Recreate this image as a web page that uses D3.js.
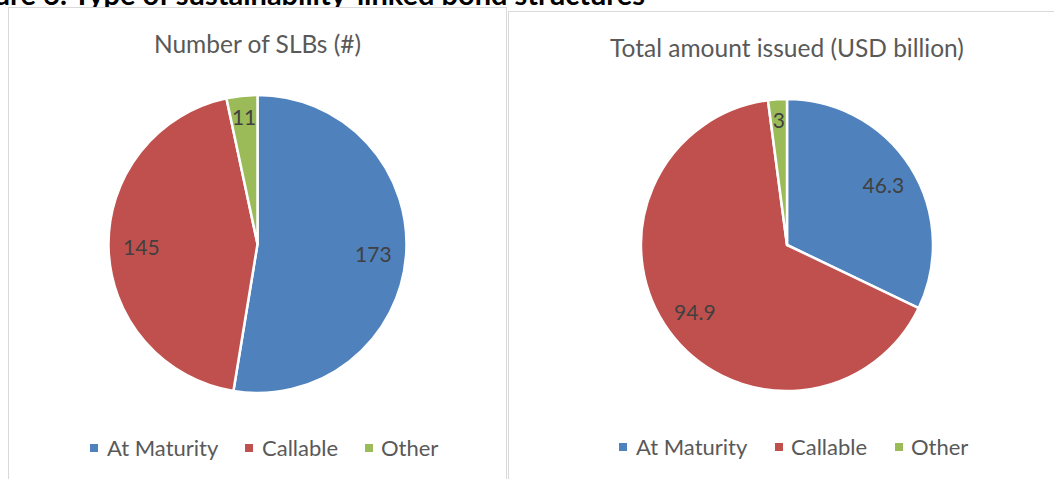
<!DOCTYPE html>
<html>
<head>
<meta charset="utf-8">
<script src="https://cdn.jsdelivr.net/npm/d3@7"></script>
<style>
  html, body { margin: 0; padding: 0; background: #fff; }
  svg { display: block; }
</style>
</head>
<body>
<svg id="chart"></svg>
<script>
// Data
const categories = ["At Maturity", "Callable", "Other"];
const colors = ["#4F81BD", "#C0504D", "#9BBB59"];
const countValues = [173, 145, 11];
const amountValues = [46.3, 94.9, 3];
const countLabels = ["173", "145", "11"];
const amountLabels = ["46.3", "94.9", "3"];

const W = 1054, H = 479;
const svg = d3.select("#chart").attr("width", W).attr("height", H);
const font = "Lato, 'Open Sans', sans-serif";
const textColor = "#595959";

// Page title (cropped at the top edge, as in the source)
svg.append("text")
  .attr("x", 645)
  .attr("y", 5)
  .attr("text-anchor", "end")
  .attr("font-family", font)
  .attr("font-weight", "bold")
  .attr("font-size", "29px")
  .attr("fill", "#000")
  .text("Figure 6: Type of sustainability-linked bond structures");

// Panel frames
svg.append("rect")
  .attr("x", 8.5).attr("y", 7.5)
  .attr("width", 498).attr("height", 480)
  .attr("fill", "#fff").attr("stroke", "#d9d9d9");
svg.append("rect")
  .attr("x", 508.5).attr("y", 11.5)
  .attr("width", 560).attr("height", 480)
  .attr("fill", "#fff").attr("stroke", "#d9d9d9");

const panels = [
  { title: "Number of SLBs (#)", values: countValues, labels: countLabels,
    cx: 257.5, cy: 244, r: 149, titleY: 53,
    legendX: [90, 245, 365], textX: [107, 262, 381], legendY: 448 },
  { title: "Total amount issued (USD billion)", values: amountValues, labels: amountLabels,
    cx: 787, cy: 245, r: 146, titleY: 57,
    legendX: [619, 775, 895], textX: [636, 791, 911], legendY: 447 }
];

const pie = d3.pie().sort(null).value(d => d);

panels.forEach(p => {
  const g = svg.append("g").attr("transform", `translate(${p.cx},${p.cy})`);
  const arc = d3.arc().innerRadius(0).outerRadius(p.r);
  const arcs = pie(p.values);
  const total = d3.sum(p.values);

  g.selectAll("path")
    .data(arcs)
    .join("path")
    .attr("d", arc)
    .attr("fill", (d, i) => colors[i])
    .attr("stroke", "#fff")
    .attr("stroke-width", 2.5)
    .attr("stroke-linejoin", "round");

  // small slices get their label pushed further out, like Excel's best fit
  const labelPos = d => {
    const k = (d.value / total) < 0.05 ? 0.86 : 0.78;
    const la = d3.arc().innerRadius(p.r * k).outerRadius(p.r * k);
    return la.centroid(d);
  };

  g.selectAll("text.lbl")
    .data(arcs)
    .join("text")
    .attr("class", "lbl")
    .attr("transform", d => `translate(${labelPos(d)})`)
    .attr("text-anchor", "middle")
    .attr("dy", "0.4em")
    .attr("font-family", font)
    .attr("font-size", "21px")
    .attr("fill", "#404040")
    .text((d, i) => p.labels[i]);

  // chart title
  svg.append("text")
    .attr("x", p.cx)
    .attr("y", p.titleY)
    .attr("text-anchor", "middle")
    .attr("font-family", font)
    .attr("font-size", "24.5px")
    .attr("fill", textColor)
    .text(p.title);

  // legend
  categories.forEach((c, i) => {
    svg.append("rect")
      .attr("x", p.legendX[i])
      .attr("y", p.legendY - 4)
      .attr("width", 8).attr("height", 8)
      .attr("fill", colors[i]);
    svg.append("text")
      .attr("x", p.textX[i])
      .attr("y", p.legendY)
      .attr("dy", "0.36em")
      .attr("font-family", font)
      .attr("font-size", "22px")
      .attr("fill", textColor)
      .text(c);
  });
});
</script>
</body>
</html>
